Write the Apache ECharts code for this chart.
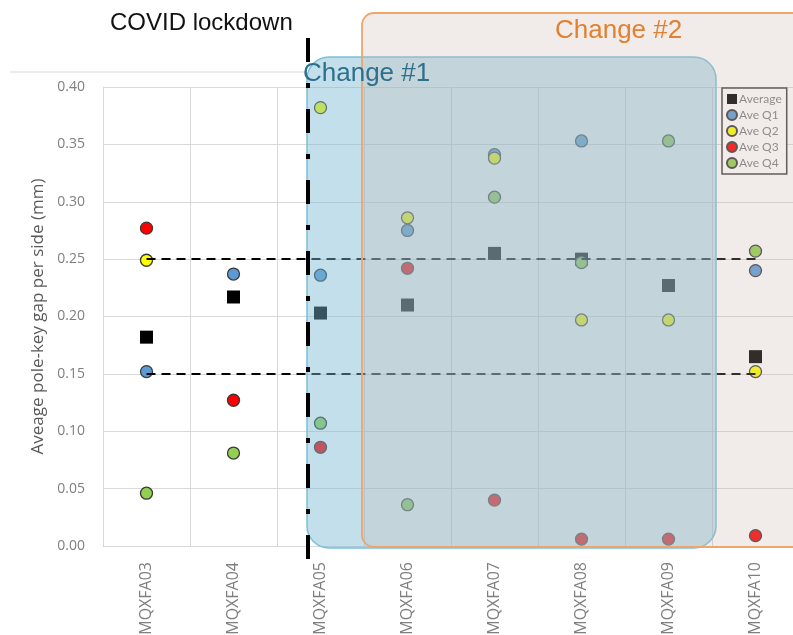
<!DOCTYPE html>
<html>
<head>
<meta charset="utf-8">
<script src="https://cdn.jsdelivr.net/npm/echarts@6/dist/echarts.min.js"></script>
<style>
  html, body { margin: 0; padding: 0; background: #fff; }
  #main { width: 793px; height: 635px; }
</style>
</head>
<body>
<div id="main"></div>
<script>
// magnets along the x axis
var categories = ['MQXFA03', 'MQXFA04', 'MQXFA05', 'MQXFA06', 'MQXFA07', 'MQXFA08', 'MQXFA09', 'MQXFA10'];

// values (mm)
var average = [0.182, 0.217, 0.203, 0.210, 0.255, 0.250, 0.227, 0.165];
var aveQ1   = [0.152, 0.237, 0.236, 0.275, 0.341, 0.353, null,  0.240];
var aveQ2   = [0.249, null,  0.382, 0.286, 0.338, 0.197, 0.197, 0.152];
var aveQ3   = [0.277, 0.127, 0.086, 0.242, 0.040, 0.006, 0.006, 0.009];
var aveQ4   = [0.046, 0.081, 0.107, 0.036, 0.304, 0.247, 0.353, 0.257];

// spec band limits
var upperLimit = 0.25;
var lowerLimit = 0.15;

var yTicks = [0, 0.05, 0.10, 0.15, 0.20, 0.25, 0.30, 0.35, 0.40];

var font = '"Open Sans", Lato, sans-serif';
var chart = echarts.init(document.getElementById('main'));

function dot(name, data, color, symbol) {
  return {
    name: name,
    type: 'scatter',
    data: data,
    symbol: symbol || 'circle',
    symbolSize: symbol === 'rect' ? 13 : 12,
    itemStyle: {
      color: color,
      borderColor: symbol === 'rect' ? '#000' : '#3a3a3a',
      borderWidth: symbol === 'rect' ? 0 : 1.3,
      opacity: 1
    },
    emphasis: { disabled: true }
  };
}

var avgSeries = dot('Average', average, '#000', 'rect');
avgSeries.markLine = {
  silent: true,
  symbol: 'none',
  label: { show: false },
  lineStyle: { color: '#000', type: [9, 6], width: 2 },
  data: [
    [{ coord: [categories[0], upperLimit] }, { coord: [categories[categories.length - 1], upperLimit] }],
    [{ coord: [categories[0], lowerLimit] }, { coord: [categories[categories.length - 1], lowerLimit] }]
  ]
};

var option = {
  backgroundColor: '#fff',
  animation: false,
  grid: { left: 103, top: 87, right: -6, bottom: 89, outerBoundsMode: 'none', containLabel: false },
  legend: {
    orient: 'vertical',
    left: 722,
    top: 88,
    padding: [5, 5, 5, 4],
    itemGap: 4,
    itemWidth: 10,
    itemHeight: 10,
    borderColor: '#404040',
    borderWidth: 1.5,
    backgroundColor: '#fff',
    textStyle: { fontSize: 12, color: '#7f7f7f', fontFamily: 'Lato, sans-serif', padding: [0, 0, 0, -3] },
    data: [
      { name: 'Average', icon: 'rect' },
      { name: 'Ave Q1', icon: 'circle' },
      { name: 'Ave Q2', icon: 'circle' },
      { name: 'Ave Q3', icon: 'circle' },
      { name: 'Ave Q4', icon: 'circle' }
    ]
  },
  xAxis: {
    type: 'category',
    data: categories,
    boundaryGap: true,
    axisLine: { lineStyle: { color: '#d9d9d9' } },
    axisTick: { show: false },
    splitLine: { show: true, lineStyle: { color: '#d9d9d9' } },
    axisLabel: { rotate: 90, margin: 16, fontSize: 16, color: '#7f7f7f', fontFamily: font, interval: 0 }
  },
  yAxis: {
    type: 'value',
    min: yTicks[0],
    max: yTicks[yTicks.length - 1],
    interval: 0.05,
    name: 'Aveage pole-key gap per side (mm)',
    nameLocation: 'middle',
    nameGap: 56,
    nameTextStyle: { fontSize: 17, color: '#595959', fontFamily: font },
    axisLine: { show: true, lineStyle: { color: '#d9d9d9' } },
    axisTick: { show: false },
    splitLine: { lineStyle: { color: '#d9d9d9' } },
    axisLabel: {
      margin: 18, fontSize: 14, color: '#7f7f7f', fontFamily: font,
      formatter: function (v) { return v.toFixed(2); }
    }
  },
  series: [
    avgSeries,
    dot('Ave Q1', aveQ1, '#5b9bd5'),
    dot('Ave Q2', aveQ2, '#ffff00'),
    dot('Ave Q3', aveQ3, '#ff0000'),
    dot('Ave Q4', aveQ4, '#92d050')
  ],
  graphic: [
    { type: 'line', z: 1, shape: { x1: 10, y1: 72, x2: 305, y2: 72 }, style: { stroke: '#d9d9d9', lineWidth: 1 } },
    { type: 'rect', z: 50, shape: { x: 307, y: 57, width: 409, height: 491, r: 22 },
      style: { fill: 'rgba(120,185,210,0.45)', stroke: '#7cc0d8', lineWidth: 1.5 } },
    { type: 'rect', z: 51, shape: { x: 362, y: 13, width: 700, height: 534, r: 12 },
      style: { fill: 'rgba(200,180,170,0.25)', stroke: '#eea56a', lineWidth: 1.8 } },
    { type: 'line', z: 60, shape: { x1: 308, y1: 38, x2: 308, y2: 562 },
      style: { stroke: '#000', lineWidth: 4, lineDash: [24, 21, 5, 21] } },
    { type: 'text', z: 60, left: 110, top: 11,
      style: { text: 'COVID lockdown', fill: '#111', font: '24px "Liberation Sans", Arial, sans-serif' } },
    { type: 'text', z: 60, left: 555, top: 18,
      style: { text: 'Change #2', fill: '#e2802f', font: '26px "Liberation Sans", Arial, sans-serif' } },
    { type: 'text', z: 60, left: 303, top: 61,
      style: { text: 'Change #1', fill: '#2e6f8c', font: '26px "Liberation Sans", Arial, sans-serif' } }
  ]
};

chart.setOption(option);
</script>
</body>
</html>
